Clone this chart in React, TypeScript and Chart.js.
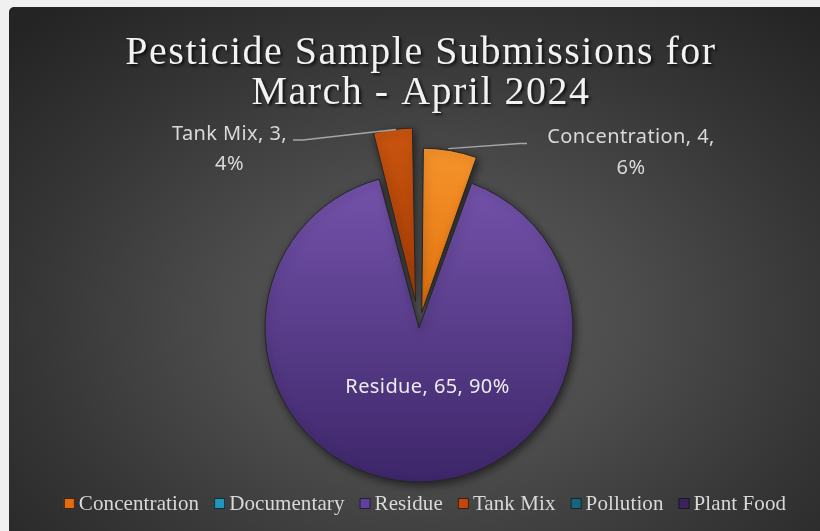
import React, { useEffect, useRef } from "react";
import { Chart, registerables } from "chart.js";

Chart.register(...registerables);

const TITLE_LINES = ["Pesticide Sample Submissions for", "March - April 2024"];
const CATEGORIES = ["Concentration", "Documentary", "Residue", "Tank Mix", "Pollution", "Plant Food"];
const VALUES = [4, 0, 65, 3, 0, 0];

// styles (not data)
const TOP_COLORS = ["#fa9a30", "#2a9ec4", "#7c59b4", "#cf5810", "#1c7187", "#4a2e70"];
const BOTTOM_COLORS = ["#e2720f", "#1a7090", "#3d2669", "#a43b05", "#0f4a5a", "#2c1a45"];
const LEGEND_COLORS = ["#e46c0a", "#2196bd", "#6040a0", "#c3470a", "#16657a", "#3a2358"];
const EXPLODE = [63, 0, 0, 106, 0, 0];

function arcDisplacement(arc: any, offset: number) {
  const half = (arc.startAngle + arc.endAngle) / 2;
  const circ = arc.endAngle - arc.startAngle;
  const fix = 1 - Math.sin(Math.min(Math.PI, circ));
  const d = (offset / 4) * (1 + fix);
  return { x: arc.x + Math.cos(half) * d, y: arc.y + Math.sin(half) * d, half };
}

export default function App() {
  const ref = useRef<HTMLCanvasElement>(null);

  useEffect(() => {
    document.body.style.margin = "0";
    document.body.style.background = "#f0f0f0";
    const canvas = ref.current!;
    const total = VALUES.reduce((a, b) => a + b, 0);

    const gradientFor = (chart: any, i: number) => {
      const ca = chart.chartArea;
      if (!ca) return TOP_COLORS[i];
      const cy = (ca.top + ca.bottom) / 2;
      const R = (Math.min(ca.right - ca.left, ca.bottom - ca.top) - 107) / 2;
      const g = chart.ctx.createLinearGradient(0, cy - R - 40, 0, i === 2 ? cy + R : cy);
      g.addColorStop(0, TOP_COLORS[i]);
      g.addColorStop(1, BOTTOM_COLORS[i]);
      return g;
    };

    const shadowPlugin = {
      id: "shadowPlugin",
      beforeDatasetsDraw(chart: any) {
        const ctx = chart.ctx;
        ctx.save();
        ctx.shadowColor = "rgba(0,0,0,0.55)";
        ctx.shadowBlur = 9;
        ctx.shadowOffsetX = 2;
        ctx.shadowOffsetY = 3;
      },
      afterDatasetsDraw(chart: any) {
        chart.ctx.restore();
      },
    };

    const decorPlugin = {
      id: "decorPlugin",
      afterDraw(chart: any) {
        const ctx = chart.ctx as CanvasRenderingContext2D;
        const meta = chart.getDatasetMeta(0);
        const ca = chart.chartArea;
        const cx = (ca.left + ca.right) / 2;

        // Title
        ctx.save();
        ctx.font = '40px "Liberation Serif"';
        (ctx as any).letterSpacing = "1.5px";
        ctx.textAlign = "center";
        ctx.textBaseline = "alphabetic";
        ctx.fillStyle = "#f2f2f2";
        ctx.shadowColor = "rgba(0,0,0,0.75)";
        ctx.shadowBlur = 3;
        ctx.shadowOffsetX = 2;
        ctx.shadowOffsetY = 2;
        ctx.fillText(TITLE_LINES[0], cx + 2, 57);
        ctx.fillText(TITLE_LINES[1], cx + 2, 97);
        ctx.restore();

        // Data labels
        const pct = (v: number) => Math.round((v / total) * 100) + "%";
        const a0 = meta.data[0];
        const pieX = a0.x;
        const pieY = a0.y;
        ctx.save();
        ctx.font = '20px "Noto Sans"';
        (ctx as any).letterSpacing = "0.4px";
        ctx.textAlign = "center";
        ctx.fillStyle = "#d9d9d9";
        ctx.strokeStyle = "#a6a6a6";
        ctx.lineWidth = 1.5;

        // Concentration (index 0)
        {
          const arc = meta.data[0];
          const d = arcDisplacement(arc, EXPLODE[0]);
          const ax = d.x + Math.cos(d.half) * arc.outerRadius;
          const ay = d.y + Math.sin(d.half) * arc.outerRadius;
          ctx.beginPath();
          ctx.moveTo(ax - 2, ay - 2);
          ctx.lineTo(pieX + 101, pieY - 184.5);
          ctx.lineTo(pieX + 108, pieY - 184.5);
          ctx.stroke();
          ctx.fillText(`${CATEGORIES[0]}, ${VALUES[0]},`, pieX + 212, pieY - 185);
          ctx.fillText(pct(VALUES[0]), pieX + 212, pieY - 154);
        }
        // Tank Mix (index 3)
        {
          const arc = meta.data[3];
          const d = arcDisplacement(arc, EXPLODE[3]);
          const ax = d.x + Math.cos(d.half) * arc.outerRadius;
          const ay = d.y + Math.sin(d.half) * arc.outerRadius;
          ctx.beginPath();
          ctx.moveTo(ax + 3, ay);
          ctx.lineTo(pieX - 116, pieY - 188);
          ctx.lineTo(pieX - 126, pieY - 188);
          ctx.stroke();
          ctx.fillText(`${CATEGORIES[3]}, ${VALUES[3]},`, pieX - 189.5, pieY - 188);
          ctx.fillText(pct(VALUES[3]), pieX - 189.5, pieY - 158);
        }
        // Residue (index 2)
        ctx.fillStyle = "#ececec";
        ctx.fillText(`${CATEGORIES[2]}, ${VALUES[2]}, ${pct(VALUES[2])}`, pieX + 8.5, pieY + 65);
        ctx.restore();

        // Legend
        ctx.save();
        ctx.font = '21px "Liberation Serif"';
        (ctx as any).letterSpacing = "0.1px";
        ctx.textBaseline = "alphabetic";
        const box = 11;
        const gapBT = 4;
        const gapItem = 15;
        const widths = CATEGORIES.map((c) => ctx.measureText(c).width);
        const totalW = widths.reduce((s, w) => s + box + gapBT + w, 0) + gapItem * (CATEGORIES.length - 1);
        let x = cx + 6 - totalW / 2;
        const baseY = 503;
        CATEGORIES.forEach((c, i) => {
          ctx.fillStyle = LEGEND_COLORS[i];
          ctx.fillRect(x, baseY - 12, box, box);
          ctx.strokeStyle = "rgba(20,20,20,0.8)";
          ctx.lineWidth = 1;
          ctx.strokeRect(x + 0.5, baseY - 11.5, box - 1, box - 1);
          ctx.fillStyle = "#d9d9d9";
          ctx.fillText(c, x + box + gapBT, baseY);
          x += box + gapBT + widths[i] + gapItem;
        });
        ctx.restore();
      },
    };

    const chart = new Chart(canvas, {
      type: "pie",
      data: {
        labels: CATEGORIES,
        datasets: [
          {
            data: VALUES,
            backgroundColor: (c: any) => gradientFor(c.chart, c.dataIndex),
            borderColor: "#262626",
            borderWidth: 1,
            offset: EXPLODE,
            hoverOffset: 0,
          },
        ],
      },
      options: {
        responsive: false,
        animation: false,
        events: [],
        layout: { padding: { left: 202.5, right: 193.5, top: 113.5, bottom: 31.5 } },
        plugins: {
          legend: { display: false },
          title: { display: false },
          tooltip: { enabled: false },
        },
      },
      plugins: [shadowPlugin, decorPlugin],
    });
    return () => chart.destroy();
  }, []);

  return (
    <div style={{ position: "fixed", left: 0, top: 0, width: 820, height: 531, background: "#f0f0f0", overflow: "hidden" }}>
      <div
        style={{
          position: "absolute",
          left: 9,
          top: 7,
          width: 811,
          height: 524,
          borderTopLeftRadius: 5,
          overflow: "hidden",
          background:
            "radial-gradient(ellipse 72% 78% at 52% 60%, #5d5d5d 0%, #4c4c4c 35%, #353535 70%, #242424 100%)",
        }}
      >
        <canvas ref={ref} width={811} height={560} style={{ display: "block" }} />
      </div>
    </div>
  );
}
